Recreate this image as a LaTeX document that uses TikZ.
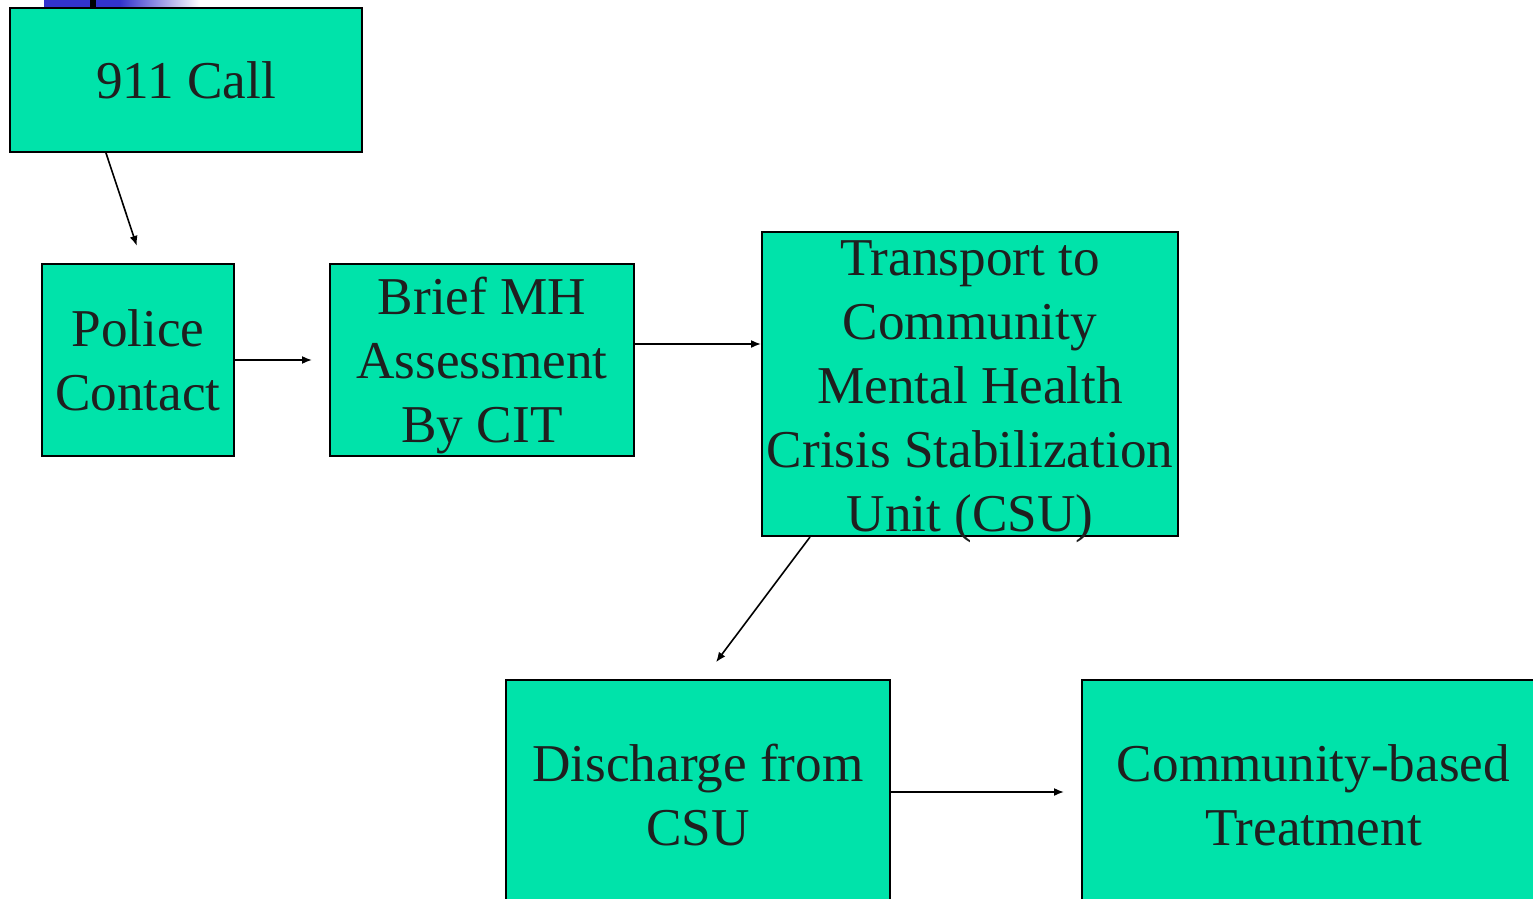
\documentclass[tikz,border=0pt]{standalone}
\usepackage{fontspec}
\setmainfont{Liberation Serif}
\usetikzlibrary{arrows.meta}

\definecolor{boxgreen}{RGB}{0,227,170}
\definecolor{barblue}{RGB}{51,51,204}
\tikzset{
	stepbox/.style={shape=rectangle,draw=black,line width=1pt,fill=boxgreen,inner sep=0pt,align=center,
		text=black!88,font=\fontsize{26.6}{32}\selectfont},
	arr/.style={-{Latex[length=5pt,width=4pt]},line width=0.8pt}
}

\begin{document}
\begin{tikzpicture}[x=0.5pt,y=-0.5pt]
	\useasboundingbox (0,0) rectangle (1533,899);
	\clip (0,0) rectangle (1533,899);

	% slide decoration
	\shade[left color=barblue,right color=white,shading angle=90] (120,0) rectangle (200,7);
	\fill[barblue] (44,0) rectangle (121,7);
	\fill[black] (90,0) rectangle (96,8);

	\node[stepbox,minimum width=176pt,minimum height=72pt]   (call)      at (186, 80)    {911 Call};
	\node[stepbox,minimum width=96pt,minimum height=96pt]    (police)    at (138, 360)   {Police\\ Contact};
	\node[stepbox,minimum width=152pt,minimum height=96pt]   (brief)     at (482, 360)   {\rule{0pt}{24.2pt}Brief MH\\ Assessment\\ By CIT};
	\node[stepbox,inner ysep=-10pt,minimum width=208pt,minimum height=152pt] (transport) at (970, 384) {\rule{0pt}{25.6pt}Transport to\\ Community\\ Mental Health\\ Crisis Stabilization\\ Unit (CSU)};
	\node[stepbox,minimum width=192pt,minimum height=115pt]  (discharge) at (698, 795)   {Discharge from\\ CSU};
	\node[stepbox,minimum width=231.5pt,minimum height=115pt] (treat)    at (1313.5, 795) {Community-based\\ Treatment};

	\draw[arr,shorten >=9pt] ([xshift=-40pt]call.south) -- ([xshift=2.25pt]police.north);
	\draw[arr,shorten >=8.5pt] (police.east) -- (brief.west);
	\draw[arr] ([yshift=8pt]brief.east) -- ([yshift=20pt]transport.west);
	\draw[arr,shorten >=10.5pt] ([xshift=-80pt]transport.south) -- ([xshift=2.7pt]discharge.north);
	\draw[arr,shorten >=8.5pt] ([yshift=1.5pt]discharge.east) -- ([yshift=1.5pt]treat.west);
\end{tikzpicture}
\end{document}
